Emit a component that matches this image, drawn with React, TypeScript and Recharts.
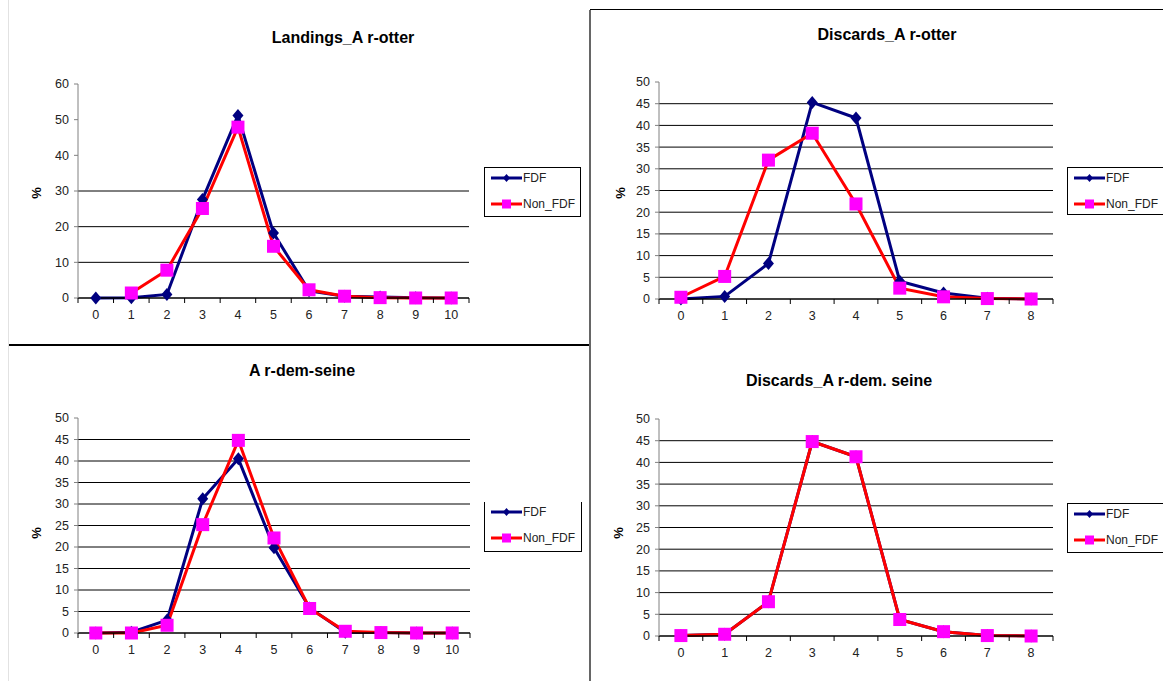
import { LineChart, Line, XAxis, YAxis, ReferenceLine, Legend } from 'recharts';

// ages (x categories)
const ages10 = [0, 1, 2, 3, 4, 5, 6, 7, 8, 9, 10];
const ages8 = [0, 1, 2, 3, 4, 5, 6, 7, 8];

const seriesNames = ['FDF', 'Non_FDF'];

// Landings_A r-otter
const landOtterFdf = [0, 0.1, 1, 27.6, 51.2, 18.2, 2, 0.5, 0.3, 0.1, 0];
const landOtterNon = [null, 1.4, 7.8, 25.1, 47.9, 14.5, 2.3, 0.5, 0.1, 0, 0];

// Discards_A r-otter
const discOtterFdf = [0, 0.6, 8.2, 45.3, 41.7, 4.1, 1.4, 0.2, 0];
const discOtterNon = [0.4, 5.2, 32, 38.2, 21.9, 2.5, 0.5, 0.1, 0];

// A r-dem-seine
const demSeineFdf = [0, 0.2, 3, 31.2, 40.5, 19.8, 5.8, 0.2, 0.1, 0, 0];
const demSeineNon = [0, 0, 1.8, 25.2, 44.8, 22.1, 5.7, 0.4, 0.1, 0, 0];

// Discards_A r-dem. seine
const discSeineFdf = [0.1, 0.4, 7.9, 44.8, 41.3, 3.8, 1.0, 0.1, 0];
const discSeineNon = [0.1, 0.4, 7.9, 44.8, 41.3, 3.8, 1.0, 0.1, 0];

const ticks60 = [0, 10, 20, 30, 40, 50, 60];
const ticks50 = [0, 5, 10, 15, 20, 25, 30, 35, 40, 45, 50];
const grid60 = [10, 20, 30];
const grid50 = [5, 10, 15, 20, 25, 30, 35, 40, 45];

const FONT = '"Liberation Sans", Arial, sans-serif';
const NAVY = '#000080';
const RED = '#FF0000';
const MAGENTA = '#FF00FF';

function build(ages: number[], fdf: (number | null)[], non: (number | null)[]) {
  return ages.map((a, i) => ({ age: a, fdf: fdf[i], non: non[i] }));
}

const diamondDot = (p: any) => {
  const { cx, cy, value, index } = p;
  if (value == null || cx == null || cy == null) return <g key={`d${index}`} />;
  return (
    <polygon
      key={`d${index}`}
      points={`${cx},${cy - 6.5} ${cx + 5.5},${cy} ${cx},${cy + 6.5} ${cx - 5.5},${cy}`}
      fill={NAVY}
    />
  );
};

const squareDot = (p: any) => {
  const { cx, cy, value, index } = p;
  if (value == null || cx == null || cy == null) return <g key={`s${index}`} />;
  return <rect key={`s${index}`} x={cx - 6.5} y={cy - 6.5} width={13} height={13} fill={MAGENTA} />;
};

function CatTick(props: any) {
  const { x, y, payload, half, count } = props;
  return (
    <g>
      <line x1={x - half} y1={y} x2={x - half} y2={y + 5} stroke="#000" />
      {payload.index === count - 1 && <line x1={x + half} y1={y} x2={x + half} y2={y + 5} stroke="#000" />}
      <text x={x} y={y + 21} textAnchor="middle" fontSize={12.5} fill="#222" fontFamily={FONT}>
        {payload.value}
      </text>
    </g>
  );
}

function LegendBox({ w, h, noTop }: { w: number; h: number; noTop?: boolean }) {
  const row = (i: number) => (
    <div key={i} style={{ display: 'flex', alignItems: 'center', height: i === 0 ? 20 : 32 }}>
      <svg width={31} height={14} style={{ marginLeft: 6 }}>
        <line x1={0} y1={7} x2={31} y2={7} stroke={i === 0 ? NAVY : RED} strokeWidth={3} />
        {i === 0 ? (
          <polygon points="15.5,3 19,7 15.5,11 12,7" fill={NAVY} />
        ) : (
          <rect x={11} y={2.5} width={9} height={9} fill={MAGENTA} />
        )}
      </svg>
      <span style={{ fontSize: 12, fontFamily: FONT, color: '#222', marginLeft: 1 }}>{seriesNames[i]}</span>
    </div>
  );
  return (
    <div
      style={{
        width: w,
        height: h,
        boxSizing: 'border-box',
        border: '1px solid #000',
        borderTop: noTop ? 'none' : '1px solid #000',
        background: '#fff',
      }}
    >
      {row(0)}
      {row(1)}
    </div>
  );
}

type PanelProps = {
  left: number;
  top: number;
  width: number;
  height: number;
  data: any[];
  count: number;
  yMax: number;
  yTicks: number[];
  grid: number[];
  margin: { top: number; right: number; bottom: number; left: number };
  half: number;
  title: string;
  titleX: number;
  titleY: number;
  pctX: number;
  pctY: number;
  legend: { x: number; y: number; w: number; h: number; noTop?: boolean };
};

function Panel(p: PanelProps) {
  return (
    <>
      <div
        style={{
          position: 'absolute',
          left: p.titleX - 150,
          top: p.titleY - 10,
          width: 300,
          textAlign: 'center',
          fontFamily: FONT,
          fontWeight: 'bold',
          fontSize: 16,
          lineHeight: '20px',
          color: '#000',
        }}
      >
        {p.title}
      </div>
      <div
        style={{
          position: 'absolute',
          left: p.pctX - 10,
          top: p.pctY - 8,
          width: 20,
          height: 16,
          lineHeight: '16px',
          textAlign: 'center',
          transform: 'rotate(-90deg)',
          fontFamily: FONT,
          fontWeight: 'bold',
          fontSize: 13,
        }}
      >
        %
      </div>
      <div style={{ position: 'absolute', left: p.left, top: p.top }}>
        <LineChart width={p.width} height={p.height} data={p.data} margin={p.margin}>
          <XAxis
            dataKey="age"
            interval={0}
            height={30}
            tickSize={0}
            tickMargin={0}
            tickLine={false}
            axisLine={{ stroke: '#000', strokeWidth: 1.5 }}
            padding={{ left: p.half, right: p.half }}
            tick={<CatTick half={p.half} count={p.count} />}
          />
          <XAxis
            xAxisId="top"
            orientation="top"
            dataKey="age"
            height={0}
            tick={false}
            tickLine={false}
            axisLine={{ stroke: '#808080' }}
          />
          <YAxis
            width={40}
            domain={[0, p.yMax]}
            ticks={p.yTicks}
            interval={0}
            tickSize={4}
            tickMargin={5}
            tickLine={{ stroke: '#808080' }}
            axisLine={{ stroke: '#808080' }}
            tick={{ fontSize: 12.5, fill: '#222', fontFamily: FONT }}
          />
          <YAxis
            yAxisId="right"
            orientation="right"
            width={0}
            tick={false}
            tickLine={false}
            axisLine={{ stroke: '#808080' }}
          />
          {p.grid.map((v) => (
            <ReferenceLine key={v} y={v} stroke="#000" strokeWidth={1} />
          ))}
          <Line
            dataKey="fdf"
            name={seriesNames[0]}
            stroke={NAVY}
            strokeWidth={3}
            dot={diamondDot}
            activeDot={false}
            isAnimationActive={false}
          />
          <Line
            dataKey="non"
            name={seriesNames[1]}
            stroke={RED}
            strokeWidth={3}
            dot={squareDot}
            activeDot={false}
            isAnimationActive={false}
          />
          <Legend
            layout="horizontal"
            verticalAlign="middle"
            align="center"
            wrapperStyle={{
              left: p.legend.x - p.left,
              top: p.legend.y - p.top,
              width: p.legend.w,
              height: p.legend.h,
            }}
            content={() => <LegendBox w={p.legend.w} h={p.legend.h} noTop={p.legend.noTop} />}
          />
        </LineChart>
      </div>
    </>
  );
}

export default function App() {
  return (
    <div
      style={{
        position: 'absolute',
        left: 0,
        top: 0,
        width: 1163,
        height: 681,
        background: '#fff',
        overflow: 'hidden',
      }}
    >
      {/* panel frames */}
      <div style={{ position: 'absolute', left: 8, top: 0, width: 1, height: 681, background: '#e2e2e2' }} />
      <div style={{ position: 'absolute', left: 9, top: 344, width: 581, height: 2, background: '#000' }} />
      <div style={{ position: 'absolute', left: 589, top: 10, width: 2, height: 671, background: '#666' }} />
      <div style={{ position: 'absolute', left: 590, top: 9, width: 573, height: 1, background: '#000' }} />

      <Panel
        left={0}
        top={0}
        width={590}
        height={345}
        data={build(ages10, landOtterFdf, landOtterNon)}
        count={ages10.length}
        yMax={60}
        yTicks={ticks60}
        grid={grid60}
        margin={{ top: 84, right: 121, bottom: 17, left: 38 }}
        half={17.8}
        title="Landings_A r-otter"
        titleX={343}
        titleY={38}
        pctX={37}
        pctY={193}
        legend={{ x: 484, y: 167, w: 97, h: 50 }}
      />
      <Panel
        left={590}
        top={0}
        width={573}
        height={345}
        data={build(ages8, discOtterFdf, discOtterNon)}
        count={ages8.length}
        yMax={50}
        yTicks={ticks50}
        grid={grid50}
        margin={{ top: 82, right: 110, bottom: 16, left: 29 }}
        half={21.9}
        title="Discards_A r-otter"
        titleX={887}
        titleY={35}
        pctX={621}
        pctY={193}
        legend={{ x: 1067, y: 167, w: 110, h: 48 }}
      />
      <Panel
        left={0}
        top={345}
        width={590}
        height={336}
        data={build(ages10, demSeineFdf, demSeineNon)}
        count={ages10.length}
        yMax={50}
        yTicks={ticks50}
        grid={grid50}
        margin={{ top: 73, right: 120, bottom: 18, left: 38 }}
        half={17.8}
        title="A r-dem-seine"
        titleX={302}
        titleY={371}
        pctX={37}
        pctY={533}
        legend={{ x: 484, y: 502, w: 98, h: 50, noTop: true }}
      />
      <Panel
        left={590}
        top={345}
        width={573}
        height={336}
        data={build(ages8, discSeineFdf, discSeineNon)}
        count={ages8.length}
        yMax={50}
        yTicks={ticks50}
        grid={grid50}
        margin={{ top: 74, right: 110, bottom: 15, left: 29 }}
        half={21.9}
        title="Discards_A r-dem. seine"
        titleX={839}
        titleY={381}
        pctX={619}
        pctY={533}
        legend={{ x: 1067, y: 503, w: 110, h: 50 }}
      />
    </div>
  );
}
